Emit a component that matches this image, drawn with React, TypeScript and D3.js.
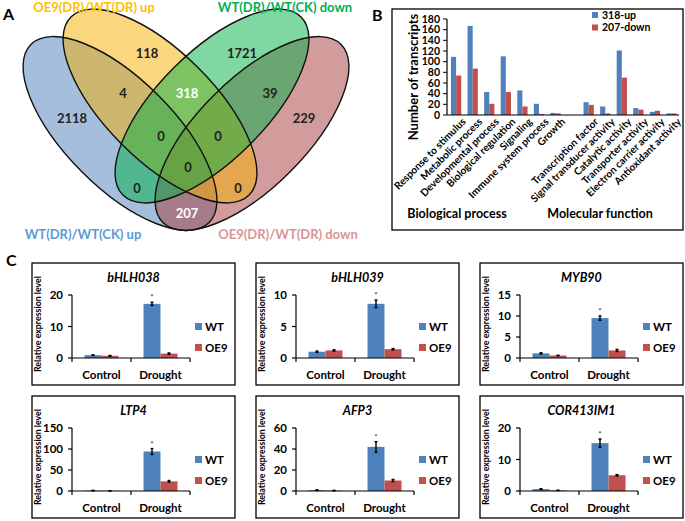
import React from 'react';
import * as d3 from 'd3';

const FONT = 'Lato, "Open Sans", "DejaVu Sans", sans-serif';

// ---------- Panel A: Venn data ----------
const vennSetNames = ['WT(DR)/WT(CK) up', 'OE9(DR)/WT(DR) down', 'OE9(DR)/WT(DR) up', 'WT(DR)/WT(CK) down'];
const vennFillColors = ['#4B7DB9', '#A83A3A', '#F5AF00', '#00B045'];
const vennLabelColors = ['#5B9BD5', '#D99694', '#FFC000', '#00B050'];
const vennRegions = ['B', 'R', 'Y', 'G', 'BY', 'YG', 'GR', 'BYG', 'YGR', 'BYGR', 'BG', 'YR', 'BR'];
const vennCounts = [2118, 229, 118, 1721, 4, 318, 39, 0, 0, 0, 0, 0, 207];
const vennWhiteRegions = ['YG', 'BR'];

// layout of the venn (geometry, not data)
const VENN_AXIS = 186;
const ELL = [
  { cx: VENN_AXIS - 66, cy: 133.5, rx: 126, ry: 54, rot: 45 },
  { cx: VENN_AXIS + 66, cy: 133.5, rx: 126, ry: 54, rot: -45 },
  { cx: VENN_AXIS - 26, cy: 106, rx: 126, ry: 54, rot: 45 },
  { cx: VENN_AXIS + 26, cy: 106, rx: 126, ry: 54, rot: -45 },
];
const REGION_POS: Record<string, [number, number]> = {
  B: [72, 118], R: [304, 118], Y: [147, 53], G: [242, 53],
  BY: [123, 93], YG: [187, 93], GR: [270, 93], BYG: [161, 136], YGR: [218, 136],
  BYGR: [188, 167], BG: [137, 188], YR: [238, 188], BR: [187, 213],
};
const LABEL_POS: [number, number, string][] = [
  [83, 234, 'middle'], [288, 234, 'middle'], [94, 7, 'middle'], [285, 7, 'middle'],
];
const DRAW_ORDER = [0, 1, 2, 3];

// ---------- Panel B: GO data ----------
const goCategories = ['Response to stimulus', 'Metabolic process', 'Developmental process', 'Biological regulation', 'Signaling', 'Immune system process', 'Growth', '', 'Transcription factor', 'Signal transducer activity', 'Catalytic activity', 'Transporter activity', 'Electron carrier activity', 'Antioxidant activity'];
const up318 = [109, 167, 43, 110, 46, 21, 4, 0, 24, 16, 121, 13, 6, 3];
const down207 = [74, 87, 21, 43, 16, 2, 3, 0, 19, 3, 70, 10, 8, 3];
const goTicks = [0, 20, 40, 60, 80, 100, 120, 140, 160, 180];
const goSeriesNames = ['318-up', '207-down'];
const BLUE = '#4F81BD';
const RED = '#C0504D';

// ---------- Panel C: qRT-PCR data ----------
const genes = ['bHLH038', 'bHLH039', 'MYB90', 'LTP4', 'AFP3', 'COR413IM1'];
const conditions = ['Control', 'Drought'];
const wtControl = [0.9, 1.0, 1.1, 1.0, 0.8, 0.6];
const oe9Control = [0.7, 1.2, 0.6, 0.5, 0.4, 0.2];
const wtDrought = [17.2, 8.6, 9.5, 94, 42, 15.2];
const oe9Drought = [1.4, 1.4, 1.8, 23, 10, 5];
const wtControlErr = [0.1, 0.1, 0.15, 0.5, 0.3, 0.1];
const oe9ControlErr = [0.1, 0.1, 0.05, 0.3, 0.2, 0.05];
const wtDroughtErr = [0.5, 0.6, 0.5, 7, 5, 1.3];
const oe9DroughtErr = [0.2, 0.1, 0.25, 2, 1, 0.2];
const yMaxes = [20, 10, 15, 150, 60, 20];
const ySteps = [10, 5, 5, 50, 20, 10];
const seriesNames = ['WT', 'OE9'];

function Venn() {
  return (
    <g>
      <text x={3} y={20} fontSize={16} fontWeight={700}>A</text>
      {DRAW_ORDER.map((i) => {
        const e = ELL[i];
        return (
          <ellipse key={'f' + i} cx={e.cx} cy={e.cy} rx={e.rx} ry={e.ry}
            transform={`rotate(${e.rot} ${e.cx} ${e.cy})`}
            fill={vennFillColors[i]} fillOpacity={0.5} stroke="none" />
        );
      })}
      {DRAW_ORDER.map((i) => {
        const e = ELL[i];
        return (
          <ellipse key={'s' + i} cx={e.cx} cy={e.cy} rx={e.rx} ry={e.ry}
            transform={`rotate(${e.rot} ${e.cx} ${e.cy})`}
            fill="none" stroke="#111" strokeWidth={1.4} />
        );
      })}
      {vennRegions.map((r, i) => (
        <text key={r} x={REGION_POS[r][0]} y={REGION_POS[r][1]} dy="0.35em" textAnchor="middle"
          fontSize={13} fontWeight={700} fill={vennWhiteRegions.includes(r) ? '#fff' : '#222'}>
          {vennCounts[i]}
        </text>
      ))}
      {vennSetNames.map((n, i) => (
        <text key={n} x={LABEL_POS[i][0]} y={LABEL_POS[i][1]} dy="0.35em" textAnchor={LABEL_POS[i][2] as any}
          fontSize={13} fontWeight={700} fill={vennLabelColors[i]}>{n}</text>
      ))}
    </g>
  );
}

function GoChart() {
  const x = d3.scaleBand<number>().domain(d3.range(goCategories.length)).range([447, 679]);
  const y = d3.scaleLinear().domain([0, 180]).range([115, 19]);
  const bw = x.bandwidth() * 0.31;
  return (
    <g>
      <text x={372} y={21} fontSize={16} fontWeight={700}>B</text>
      <rect x={392} y={9} width={291} height={221} fill="#fff" stroke="#000" strokeWidth={1.3} />
      {goCategories.map((c, i) => {
        const cx = (x(i) as number) + x.bandwidth() * 0.55;
        if (!c) return null;
        return (
          <g key={i}>
            <rect x={cx - bw} y={y(up318[i])} width={bw} height={y(0) - y(up318[i])} fill={BLUE} />
            <rect x={cx} y={y(down207[i])} width={bw} height={y(0) - y(down207[i])} fill={RED} />
            <text transform={`translate(${cx + 6},${y(0) + 3}) rotate(-45)`} textAnchor="end" dy="0.6em"
              fontSize={10.2} fontWeight={700}>{c}</text>
          </g>
        );
      })}
      <line x1={447} x2={447} y1={y(180)} y2={y(0)} stroke="#000" strokeWidth={1.2} />
      <line x1={447} x2={679} y1={y(0)} y2={y(0)} stroke="#000" strokeWidth={1.2} />
      {goTicks.map((t) => (
        <g key={t}>
          <line x1={443} x2={447} y1={y(t)} y2={y(t)} stroke="#000" strokeWidth={1} />
          <text x={440} y={y(t)} dy="0.35em" textAnchor="end" fontSize={10.5} fontWeight={700}>{t}</text>
        </g>
      ))}
      <text transform={`translate(413,${(y(0) + y(180)) / 2 + 10}) rotate(-90)`} textAnchor="middle" dy="0.35em"
        fontSize={13} fontWeight={700}>Number of transcripts</text>
      {goSeriesNames.map((n, i) => (
        <g key={n}>
          <rect x={592} y={12 + i * 12.5} width={6} height={6} fill={i === 0 ? BLUE : RED} />
          <text x={602} y={15 + i * 12.5} dy="0.35em" fontSize={10.5} fontWeight={700}>{n}</text>
        </g>
      ))}
      <text x={457} y={214} dy="0.35em" textAnchor="middle" fontSize={12.5} fontWeight={700}>Biological process</text>
      <text x={600} y={214} dy="0.35em" textAnchor="middle" fontSize={12.5} fontWeight={700}>Molecular function</text>
    </g>
  );
}

function ExprPanel({ gi, bx, by }: { gi: number; bx: number; by: number }) {
  const W = 203, H = 122;
  const ax = bx + 40, right = bx + 158, yTop = by + 32, yZero = by + 95;
  const x = d3.scaleBand<string>().domain(conditions).range([ax, right]);
  const y = d3.scaleLinear().domain([0, yMaxes[gi]]).range([yZero, yTop]);
  const ticks = d3.range(0, yMaxes[gi] + 0.001, ySteps[gi]);
  const bw = 17;
  const vals = [[wtControl[gi], oe9Control[gi]], [wtDrought[gi], oe9Drought[gi]]];
  const errs = [[wtControlErr[gi], oe9ControlErr[gi]], [wtDroughtErr[gi], oe9DroughtErr[gi]]];
  return (
    <g>
      <rect x={bx} y={by} width={W} height={H} fill="#fff" stroke="#000" strokeWidth={1.3} />
      <text x={bx + W / 2} y={by + 19} textAnchor="middle" fontSize={12.5} fontWeight={700} fontStyle="italic">{genes[gi]}</text>
      <text transform={`translate(${bx + 6},${by + H / 2}) rotate(-90)`} textAnchor="middle" dy="0.35em"
        fontSize={8.8} fontWeight={700}>Relative expression level</text>
      {conditions.map((c, ci) => {
        const cx = (x(c) as number) + x.bandwidth() / 2;
        return (
          <g key={c}>
            {[0, 1].map((s) => {
              const v = vals[ci][s];
              const e = errs[ci][s];
              const x0 = s === 0 ? cx - bw : cx;
              const xm = x0 + bw / 2;
              return (
                <g key={s}>
                  <rect x={x0} y={y(v)} width={bw} height={yZero - y(v)} fill={s === 0 ? BLUE : RED} />
                  <line x1={xm} x2={xm} y1={y(v + e)} y2={y(Math.max(0, v - e))} stroke="#000" strokeWidth={1.4} />
                  <line x1={xm - 1.5} x2={xm + 1.5} y1={y(v + e)} y2={y(v + e)} stroke="#000" strokeWidth={1.4} />
                  <line x1={xm - 1.5} x2={xm + 1.5} y1={y(Math.max(0, v - e))} y2={y(Math.max(0, v - e))} stroke="#000" strokeWidth={1.4} />
                </g>
              );
            })}
            <text x={cx} y={by + 116} textAnchor="middle" fontSize={11.5} fontWeight={700}>{c}</text>
          </g>
        );
      })}
      <text x={x('Drought')! + x.bandwidth() / 2 - bw / 2} y={y(wtDrought[gi] + wtDroughtErr[gi]) - 2}
        textAnchor="middle" fontSize={8} fill="#333">*</text>
      <line x1={ax} x2={ax} y1={yTop} y2={yZero} stroke="#000" strokeWidth={1.2} />
      <line x1={ax} x2={right} y1={yZero} y2={yZero} stroke="#000" strokeWidth={1.2} />
      {[ax, (ax + right) / 2, right].map((tx, i) => (
        <line key={i} x1={tx} x2={tx} y1={yZero} y2={yZero + 4} stroke="#000" strokeWidth={1.2} />
      ))}
      {ticks.map((t) => (
        <g key={t}>
          <line x1={ax - 4} x2={ax} y1={y(t)} y2={y(t)} stroke="#000" strokeWidth={1.2} />
          <text x={ax - 9} y={y(t)} dy="0.35em" textAnchor="end" fontSize={11.5} fontWeight={700}>{t}</text>
        </g>
      ))}
      {seriesNames.map((n, i) => (
        <g key={n}>
          <rect x={bx + 163} y={by + 60 + i * 21} width={7} height={7} fill={i === 0 ? BLUE : RED} />
          <text x={bx + 173} y={by + 63.5 + i * 21} dy="0.35em" fontSize={11.5} fontWeight={700}>{n}</text>
        </g>
      ))}
    </g>
  );
}

export default function App() {
  const boxX = [32, 256, 480];
  const boxY = [263, 396];
  return (
    <svg width={685} height={521} fontFamily={FONT}
      style={{ position: 'absolute', left: 0, top: 0, display: 'block', background: '#fff' }}>
      <rect width={685} height={521} fill="#fff" />
      <Venn />
      <GoChart />
      <text x={6} y={266} fontSize={16} fontWeight={700}>C</text>
      {genes.map((g, gi) => (
        <ExprPanel key={g} gi={gi} bx={boxX[gi % 3]} by={boxY[Math.floor(gi / 3)]} />
      ))}
    </svg>
  );
}
